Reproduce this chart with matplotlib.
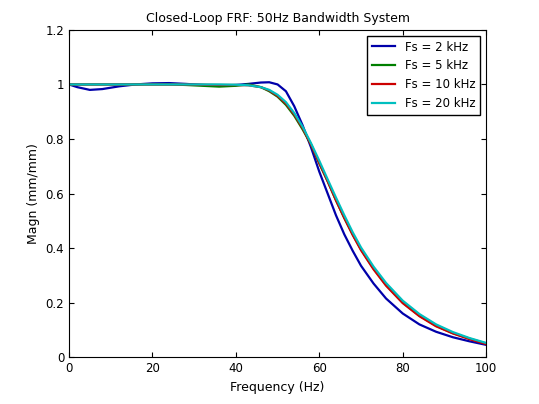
import numpy as np
import matplotlib.pyplot as plt

freq = [0, 2, 5, 8, 12, 16, 20, 24, 28, 32, 36, 40, 43, 46, 48, 50, 52, 54, 56, 58, 60, 62, 64, 66, 68, 70, 73, 76, 80, 84, 88, 92, 96, 100]

mag_2k = [1.0, 0.99, 0.98, 0.983, 0.993, 1.0, 1.004, 1.005, 1.002, 0.998, 0.996, 0.998, 1.002, 1.007, 1.008, 1.0, 0.975, 0.92, 0.85, 0.77, 0.68, 0.6, 0.52, 0.45, 0.39, 0.335, 0.27, 0.215, 0.16, 0.12, 0.093, 0.073, 0.058, 0.045]
mag_5k = [1.0, 1.0, 1.0, 1.0, 1.0, 1.0, 1.0, 1.0, 0.998, 0.995, 0.992, 0.995, 1.0, 0.99, 0.975, 0.955, 0.925, 0.885, 0.835, 0.78, 0.71, 0.645, 0.575, 0.51, 0.45, 0.395, 0.325, 0.265, 0.2, 0.152, 0.115, 0.088, 0.068, 0.05]
mag_10k = [1.0, 1.0, 1.0, 1.0, 1.0, 1.0, 1.0, 1.0, 1.0, 0.999, 0.998, 0.998, 0.997, 0.99, 0.978, 0.958, 0.93, 0.89, 0.84, 0.78, 0.712, 0.645, 0.575, 0.51, 0.448, 0.392, 0.322, 0.262, 0.198, 0.15, 0.113, 0.087, 0.066, 0.048]
mag_20k = [1.0, 1.0, 1.0, 1.0, 1.0, 1.0, 1.0, 1.0, 1.0, 1.0, 1.0, 0.999, 0.997, 0.99, 0.98, 0.962, 0.935, 0.895, 0.845, 0.785, 0.72, 0.652, 0.585, 0.52, 0.458, 0.402, 0.332, 0.272, 0.207, 0.158, 0.12, 0.092, 0.07, 0.052]

labels = ["Fs = 2 kHz", "Fs = 5 kHz", "Fs = 10 kHz", "Fs = 20 kHz"]
colors = ["#0000aa", "#007f00", "#cc0000", "#00bfbf"]

fig = plt.figure(figsize=(5.39, 4.04), dpi=100)
ax = fig.add_axes([0.128, 0.116, 0.774, 0.81])
for m, lab, c in zip([mag_2k, mag_5k, mag_10k, mag_20k], labels, colors):
    ax.plot(freq, m, color=c, linewidth=1.6, label=lab)

ax.set_xlim(0, 100)
ax.set_ylim(0, 1.2)
ax.set_xticks(range(0, 101, 20))
ax.set_yticks(np.arange(0, 1.21, 0.2))
ax.set_yticklabels(["0", "0.2", "0.4", "0.6", "0.8", "1", "1.2"])
ax.tick_params(direction="in", top=True, right=True, labelsize=8.5)
ax.set_xlabel("Frequency (Hz)", fontsize=9)
ax.set_ylabel("Magn (mm/mm)", fontsize=9)
ax.set_title("Closed-Loop FRF: 50Hz Bandwidth System", fontsize=9)
leg = ax.legend(loc="upper right", fontsize=8.5, fancybox=False, framealpha=1, edgecolor="black")
fig.savefig("out.png", dpi=100)
